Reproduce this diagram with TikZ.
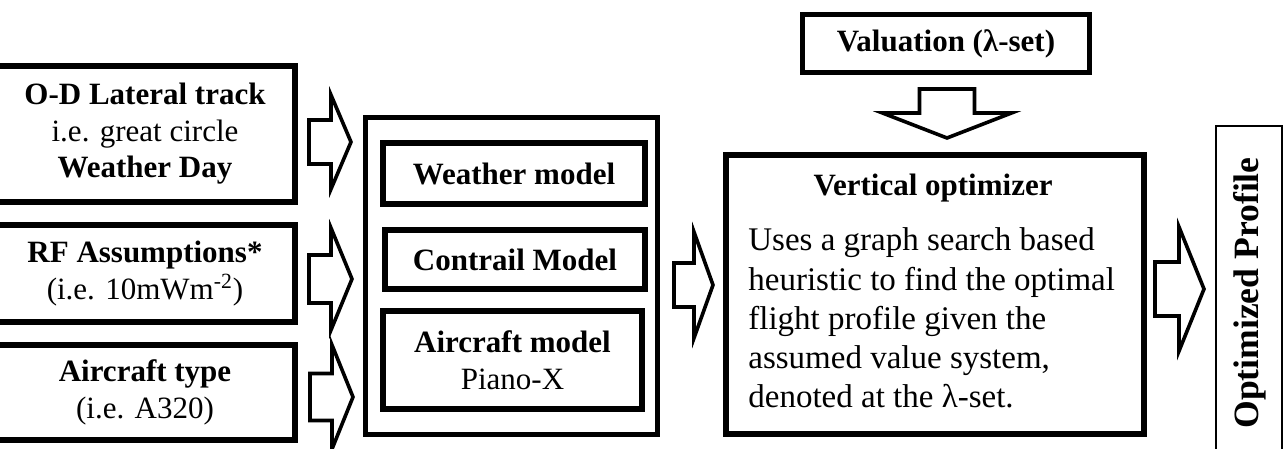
\documentclass[tikz,border=0pt]{standalone}
\usepackage{fontspec}
\setmainfont{Liberation Serif}
\newcommand\rblk[6]{\draw[barrow] (#1,{#4-#5}) -- (#2,{#4-#5}) -- (#2,{#4-#6}) -- (#3,#4) -- (#2,{#4+#6}) -- (#2,{#4+#5}) -- (#1,{#4+#5}) -- cycle;}
\begin{document}
\begin{tikzpicture}[x=0.5pt,y=-0.5pt,
  box/.style={draw, line width=3pt, inner sep=0pt, align=center, font=\fontsize{15.5}{18.25}\selectfont},
  barrow/.style={draw, line width=1.8pt, line join=miter},
]
\useasboundingbox (0,0) rectangle (1285,449);

% left input boxes
\node[box, minimum width=150pt, minimum height=68pt] (b1) at (145,134)
  {\textbf{O-D Lateral track}\\i.e. great circle\\\textbf{Weather Day}};
\node[box, minimum width=150pt, minimum height=48.5pt] (b2) at (145,273.5)
  {\textbf{RF Assumptions*}\\(i.e. 10mWm\textsuperscript{-2})};
\node[box, minimum width=150pt, minimum height=47.5pt] (b3) at (145,392.5)
  {\textbf{Aircraft type}\\(i.e. A320)};

% left arrows
\rblk{309}{331}{351}{142}{22}{47}
\rblk{309}{331}{352}{279}{24}{51}
\rblk{310}{332}{353}{397}{23.5}{52}

% middle group
\node[draw, line width=2.5pt, minimum width=146pt, minimum height=158.5pt, inner sep=0pt] (mid) at (511.5,276) {};
\node[box, minimum width=131pt, minimum height=30.5pt] (wm) at (514,173.5) {\textbf{Weather model}};
\node[box, minimum width=130pt, minimum height=29.5pt] (cm) at (515,259.5) {\textbf{Contrail Model}};
\node[box, minimum width=129.5pt, minimum height=49pt] (am) at (512.5,360) {\textbf{Aircraft model}\\Piano-X};

% middle arrow
\rblk{674}{694}{713}{285}{22}{53}

% valuation
\node[box, line width=2.5pt, minimum width=143.5pt, minimum height=29pt] (val) at (946,43.5) {\textbf{Valuation (λ-set)}};
\draw[barrow] (919.5,89) -- (974.5,89) -- (974.5,113) -- (1011.5,113) -- (947,138) -- (882.5,113) -- (919.5,113) -- cycle;

% vertical optimizer
\node[draw, line width=3pt, minimum width=209pt, minimum height=139.5pt, inner sep=0pt] (vo) at (935,294.5) {};
\node[anchor=base, inner sep=0pt, font=\fontsize{15.5}{18}\selectfont\bfseries] (votitle) at (933,195) {Vertical optimizer};
\node[anchor=north west, inner sep=0pt, align=left, font=\fontsize{16.5}{19.6}\selectfont] (vobody) at (748,227.5)
  {Uses a graph search based\\heuristic to find the optimal\\flight profile given the\\assumed value system,\\denoted at the λ-set.};

% right arrow
\rblk{1155}{1179}{1204}{289}{27}{62}

% optimized profile
\node[draw, line width=1.2pt, minimum width=33pt, minimum height=167pt, inner sep=0pt] (op) at (1249,293) {};
\node[rotate=90, inner sep=0pt, font=\fontsize{17.8}{20}\selectfont\bfseries] (optext) at (1250,293) {Optimized Profile};
\end{tikzpicture}
\end{document}
